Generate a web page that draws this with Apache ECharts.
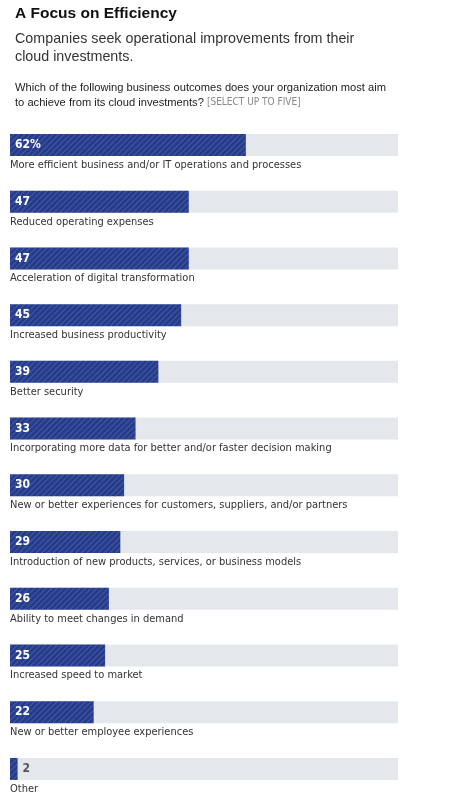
<!DOCTYPE html>
<html><head><meta charset="utf-8">
<script src="https://cdn.jsdelivr.net/npm/echarts@6/dist/echarts.min.js"></script>
<style>html,body{margin:0;padding:0;background:#fff}#c{width:449px;height:802px}</style>
</head><body><div id="c"></div>
<script>
var categories = ["More efficient business and/or IT operations and processes", "Reduced operating expenses", "Acceleration of digital transformation", "Increased business productivity", "Better security", "Incorporating more data for better and/or faster decision making", "New or better experiences for customers, suppliers, and/or partners", "Introduction of new products, services, or business models", "Ability to meet changes in demand", "Increased speed to market", "New or better employee experiences", "Other"];
var values = [62, 47, 47, 45, 39, 33, 30, 29, 26, 25, 22, 2];
var valueLabels = ["62%", "47", "47", "45", "39", "33", "30", "29", "26", "25", "22", "2"];
var axisMax = 102;

var narrow = '"Liberation Sans Narrow", "DejaVu Sans Condensed", "Roboto", sans-serif';
var chart = echarts.init(document.getElementById('c'));
var trackData = categories.map(function (c, i) { return { value: axisMax, name: c }; });
var valData = values.map(function (v, i) {
  var d = { value: v };
  if (v < 5) {
    d.label = { position: 'right', distance: 5, color: '#555' };
  }
  return d;
});
chart.setOption({
  animation: false,
  title: [
    { text: 'A Focus on Efficiency', left: 10, top: 1, textStyle: { fontFamily: 'Liberation Sans, Arial, sans-serif', fontSize: 15.5, fontWeight: 'bold', color: '#111' } },
    { text: 'Companies seek operational improvements from their\ncloud investments.', left: 10, top: 25, textStyle: { fontFamily: 'Liberation Sans, Arial, sans-serif', fontSize: 14.3, fontWeight: 'normal', color: '#333', lineHeight: 18 } },
    { text: 'Which of the following business outcomes does your organization most aim\nto achieve from its cloud investments? {g|[SELECT UP TO FIVE]}', left: 10, top: 75, textStyle: { fontFamily: 'Liberation Sans, Arial, sans-serif', fontSize: 11.15, fontWeight: 'normal', color: '#222', lineHeight: 15, rich: { g: { fontFamily: narrow, fontSize: 10, color: '#888' } } } }
  ],
  grid: { left: 10, right: 51, top: 116.6, height: 680.7, containLabel: false },
  xAxis: { type: 'value', min: 0, max: axisMax, show: false },
  yAxis: { type: 'category', data: categories, inverse: true, show: false },
  series: [
    {
      type: 'bar', data: trackData, barWidth: 22, silent: true,
      itemStyle: { color: '#e4e8ec' },
      label: { show: true, position: [0, 31], align: 'left', verticalAlign: 'middle', formatter: '{b}', fontFamily: narrow, fontSize: 11, color: '#333' },
      z: 1
    },
    {
      type: 'bar', data: valData, barWidth: 22, barGap: '-100%',
      itemStyle: {
        color: '#253c8c',
        decal: { symbol: 'rect', symbolSize: 1, dashArrayX: [1, 0], dashArrayY: [1, 3], rotation: -Math.PI / 4, color: 'rgba(255,255,255,0.15)' }
      },
      label: { show: true, position: 'insideLeft', distance: 5, formatter: function (p) { return valueLabels[p.dataIndex]; }, fontFamily: narrow, fontSize: 12, fontWeight: 'bold', color: '#fff' },
      z: 2
    }
  ]
});
</script></body></html>
